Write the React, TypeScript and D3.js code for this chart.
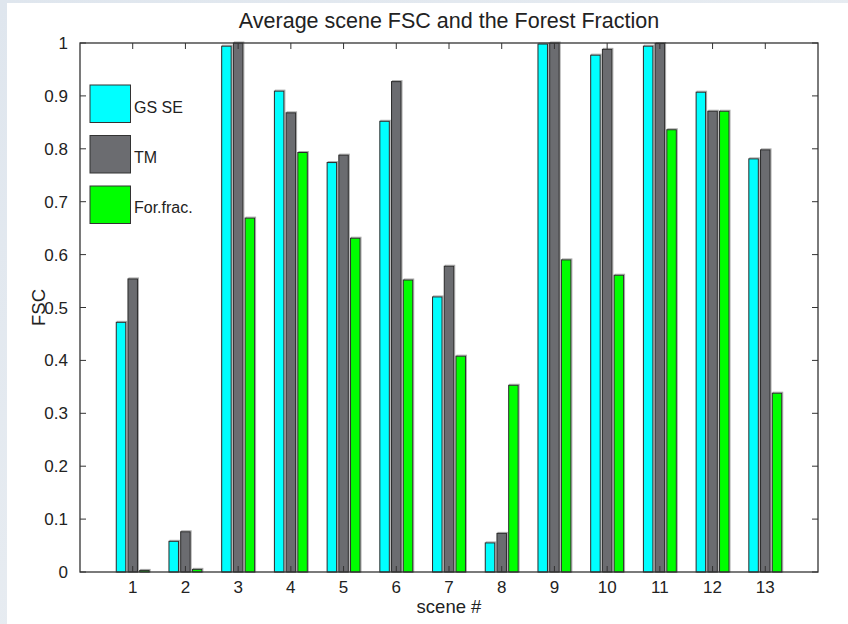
import React from "react";
import * as d3 from "d3";

const scenes = ["1", "2", "3", "4", "5", "6", "7", "8", "9", "10", "11", "12", "13"];
const gsse = [0.472, 0.058, 0.994, 0.909, 0.774, 0.852, 0.52, 0.055, 0.998, 0.977, 0.994, 0.907, 0.781];
const tm = [0.554, 0.076, 1.0, 0.868, 0.788, 0.927, 0.578, 0.073, 1.0, 0.988, 0.999, 0.871, 0.798];
const forfrac = [0.003, 0.005, 0.669, 0.793, 0.631, 0.552, 0.408, 0.353, 0.59, 0.561, 0.836, 0.871, 0.338];
const seriesNames = ["GS SE", "TM", "For.frac."];
const seriesColors = ["#00ffff", "#6b6c70", "#00ff00"];
const yTicks = [0, 0.1, 0.2, 0.3, 0.4, 0.5, 0.6, 0.7, 0.8, 0.9, 1];

const W = 848, H = 624;
const L = 80, R = 818, T = 43, B = 572;

export default function App() {
  const x = d3.scaleLinear().domain([0, 14]).range([L, R]);
  const y = d3.scaleLinear().domain([0, 1]).range([B, T]);
  const series = [gsse, tm, forfrac];
  const off = 0.2222;
  const bw = 0.18;
  const font = "Liberation Sans, Arial, sans-serif";
  const tickLen = 6;
  return (
    <svg width={W} height={H} style={{ position: "absolute", left: 0, top: 0 }} fontFamily={font}>
      <defs>
        <linearGradient id="bg" x1="0" y1="0" x2="1" y2="1">
          <stop offset="0" stopColor="#dfe6ee" />
          <stop offset="1" stopColor="#eef1f4" />
        </linearGradient>
      </defs>
      <rect x={0} y={0} width={W} height={H} fill="url(#bg)" />
      <rect x={7} y={3} width={W - 7} height={H - 3} fill="#ffffff" />
      <text x={449} y={28} textAnchor="middle" fontSize={21.5} fill="#222">
        Average scene FSC and the Forest Fraction
      </text>
      {series.map((vals, si) =>
        vals.map((v, i) => {
          const cx = i + 1 + (si - 1) * off;
          const x0 = x(cx - bw / 2);
          const x1 = x(cx + bw / 2);
          return (
            <g key={`${si}-${i}`}>
              <rect x={x0 + 1} y={y(v) - 1} width={x1 - x0} height={y(0) - y(v) + 1} fill="none" stroke="#aaa" strokeWidth={1} />
              <rect x={x0} y={y(v)} width={x1 - x0} height={y(0) - y(v)} fill={seriesColors[si]} stroke="#2a2a2a" strokeWidth={1} />
            </g>
          );
        })
      )}
      <rect x={L} y={T} width={R - L} height={B - T} fill="none" stroke="#333" strokeWidth={1.3} />
      {scenes.map((s, i) => (
        <g key={s}>
          <line x1={x(i + 1)} x2={x(i + 1)} y1={B} y2={B - tickLen} stroke="#333" />
          <line x1={x(i + 1)} x2={x(i + 1)} y1={T} y2={T + tickLen} stroke="#333" />
          <text x={x(i + 1)} y={B + 21} textAnchor="middle" fontSize={17} fill="#222">{s}</text>
        </g>
      ))}
      {yTicks.map((t) => (
        <g key={t}>
          <line x1={L} x2={L + tickLen} y1={y(t)} y2={y(t)} stroke="#333" />
          <line x1={R} x2={R - tickLen} y1={y(t)} y2={y(t)} stroke="#333" />
          <text x={L - 12} y={y(t) + 6} textAnchor="end" fontSize={17} fill="#222">{String(t)}</text>
        </g>
      ))}
      <text x={449} y={613} textAnchor="middle" fontSize={18.5} fill="#222">scene #</text>
      <text transform={`translate(45, ${(T + B) / 2}) rotate(-90)`} textAnchor="middle" fontSize={18.5} fill="#222">FSC</text>
      {seriesNames.map((n, i) => (
        <g key={n}>
          <rect x={90} y={85 + i * 50.5} width={40.5} height={37.5} fill={seriesColors[i]} stroke="#333" strokeWidth={1} />
          <text x={134} y={113 + i * 50} fontSize={16} fill="#222">{n}</text>
        </g>
      ))}
    </svg>
  );
}
